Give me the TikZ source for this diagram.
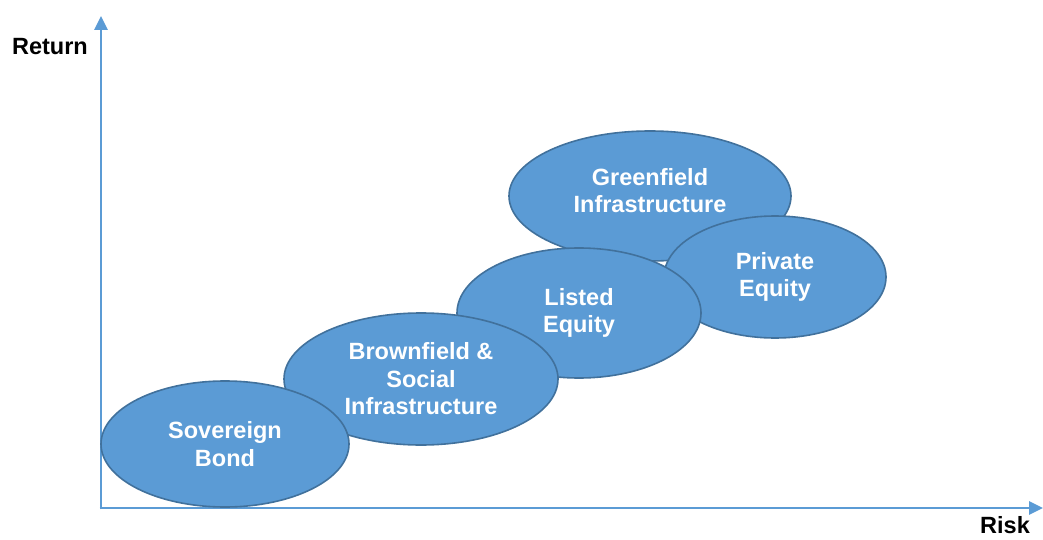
\documentclass[tikz,border=0pt]{standalone}
\usepackage{fontspec}
\setmainfont{Liberation Sans}
\usetikzlibrary{shapes.geometric,arrows.meta}
\definecolor{bfill}{HTML}{5B9BD5}
\definecolor{bdraw}{HTML}{41719C}
\definecolor{axisc}{HTML}{5B9BD5}
\begin{document}
\begin{tikzpicture}[x=1pt,y=1pt,
  blob/.style={ellipse, fill=bfill, draw=bdraw, line width=1.6pt, inner sep=0pt,
    text=white, font=\fontsize{23.5}{27.5}\selectfont\bfseries, align=center},
  axislabel/.style={font=\fontsize{23.5}{27}\selectfont\bfseries, text=black, inner sep=0pt},
  axisline/.style={draw=axisc, line width=2.8pt, -{Triangle[length=14pt,width=13pt]}}]
\useasboundingbox (0,0) rectangle (1043,539);
\coordinate (O) at (101,31);
\coordinate (Ytip) at (101,523);
\coordinate (Xtip) at (1043,31);
\draw[axisline] ([yshift=-1.4pt]O) -- (Ytip);
\draw[axisline] ([xshift=-1.4pt]O) -- (Xtip);
\node[axislabel] (ret) at (50,492) {Return};
\node[axislabel] (risk) at (1005,14) {Risk};
\node[blob, minimum width=282pt, minimum height=130pt] (green) at (650,343) {Greenfield\\Infrastructure\\[-16pt]\mbox{}};
\node[blob, minimum width=222pt, minimum height=122pt] (priv) at (775,262) {Private\\Equity};
\node[blob, minimum width=244pt, minimum height=130pt] (list) at (579,226) {Listed\\Equity};
\node[blob, minimum width=274pt, minimum height=132pt] (brown) at (421,160) {Brownfield \&\\Social\\Infrastructure};
\node[blob, minimum width=248pt, minimum height=126pt] (sov) at (225,95) {Sovereign\\Bond};
\end{tikzpicture}
\end{document}
